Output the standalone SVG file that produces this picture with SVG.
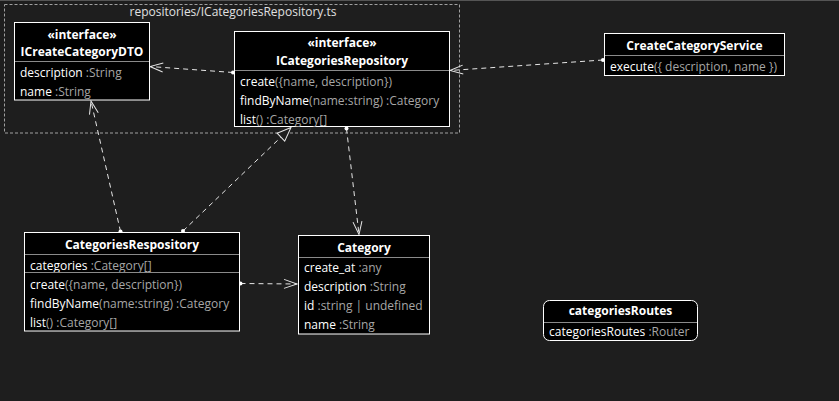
<svg xmlns="http://www.w3.org/2000/svg" width="839" height="401" viewBox="0 0 839 401">
<style>
text{font-family:"Open Sans","Noto Sans","Liberation Sans",sans-serif;font-size:12px;fill:#ffffff}
.t{font-weight:bold;text-anchor:middle}
.g{fill:#a6a6a6}
.box{fill:#000;stroke:#fff;stroke-width:1}
.div{stroke:#8a8a8a;stroke-width:1}
.edge{fill:none;stroke:#e6e6e6;stroke-width:1;stroke-dasharray:5,4}
.dot{fill:#fff}
</style>
<defs>
<marker id="open" viewBox="-14 -6 16 12" refX="0" refY="0" markerWidth="16" markerHeight="12" markerUnits="userSpaceOnUse" orient="auto">
<path d="M-13,-4.5 L0,0 L-13,4.5" fill="none" stroke="#e6e6e6" stroke-width="1"/>
</marker>
<marker id="tri" viewBox="-16 -8 18 16" refX="0" refY="0" markerWidth="18" markerHeight="16" markerUnits="userSpaceOnUse" orient="auto">
<path d="M-14,-5.5 L0,0 L-14,5.5 Z" fill="#1e1e1e" stroke="#e6e6e6" stroke-width="1"/>
</marker>
</defs>
<rect x="0" y="0" width="839" height="401" fill="#1e1e1e"/>
<line x1="0" y1="0.5" x2="839" y2="0.5" stroke="#555"/>

<g id="package">
<rect x="4.5" y="4.5" width="455" height="128.5" fill="none" stroke="#a0a0a0" stroke-dasharray="3,2"/>
<text x="233" y="16" text-anchor="middle" style="fill:#e0e0e0">repositories/ICategoriesRepository.ts</text>
</g>

<g id="connectors">
<path class="edge" d="M233,72.5 L150,66.5" marker-end="url(#open)"/>
<circle class="dot" cx="233" cy="72.5" r="2"/>
<path class="edge" d="M603,60 L450,70.5" marker-end="url(#open)"/>
<circle class="dot" cx="603" cy="60" r="2"/>
<path class="edge" d="M120.5,231.5 L91,101" marker-end="url(#open)"/>
<circle class="dot" cx="120.5" cy="231.5" r="2"/>
<path class="edge" d="M183,231 L291,127.5" marker-end="url(#tri)"/>
<circle class="dot" cx="183" cy="231" r="2"/>
<path class="edge" d="M346.5,128.5 L359,234.5" marker-end="url(#open)"/>
<circle class="dot" cx="346.5" cy="128.5" r="2"/>
<path class="edge" d="M240.5,283.5 L297,284" marker-end="url(#open)"/>
<circle class="dot" cx="240.5" cy="283.5" r="2"/>
</g>

<g id="ICreateCategoryDTO">
<rect class="box" x="14.5" y="22.5" width="135" height="77.5"/>
<text class="t" x="82" y="39">«interface»</text>
<text class="t" x="82" y="56">ICreateCategoryDTO</text>
<line class="div" x1="15" y1="61.5" x2="149" y2="61.5"/>
<text x="20" y="77">description <tspan class="g">:String</tspan></text>
<text x="20" y="96">name <tspan class="g">:String</tspan></text>
</g>

<g id="ICategoriesRepository">
<rect class="box" x="234.5" y="31.5" width="215" height="95"/>
<text class="t" x="342" y="47">«interface»</text>
<text class="t" x="342" y="65">ICategoriesRepository</text>
<line class="div" x1="235" y1="70.5" x2="449" y2="70.5"/>
<text x="240" y="86">create<tspan class="g">({name, description})</tspan></text>
<text x="240" y="105">findByName<tspan class="g">(name:string) :Category</tspan></text>
<text x="240" y="124">list<tspan class="g">() :Category[]</tspan></text>
</g>

<g id="CreateCategoryService">
<rect class="box" x="604.5" y="33.5" width="180" height="42"/>
<text class="t" x="694.5" y="50">CreateCategoryService</text>
<line class="div" x1="605" y1="55.5" x2="784" y2="55.5"/>
<text x="610" y="71">execute<tspan class="g">({ description, name })</tspan></text>
</g>

<g id="CategoriesRespository">
<rect class="box" x="24.5" y="232.5" width="215" height="98.5"/>
<text class="t" x="132" y="248.5">CategoriesRespository</text>
<line class="div" x1="25" y1="254.5" x2="239" y2="254.5"/>
<text x="30" y="270">categories <tspan class="g">:Category[]</tspan></text>
<line class="div" x1="25" y1="272.5" x2="239" y2="272.5"/>
<text x="30" y="289">create<tspan class="g">({name, description})</tspan></text>
<text x="30" y="308">findByName<tspan class="g">(name:string) :Category</tspan></text>
<text x="30" y="327">list<tspan class="g">() :Category[]</tspan></text>
</g>

<g id="Category">
<rect class="box" x="298.5" y="235.5" width="131" height="98.5"/>
<text class="t" x="364" y="252">Category</text>
<line class="div" x1="299" y1="257.5" x2="429" y2="257.5"/>
<text x="304" y="272">create_at <tspan class="g">:any</tspan></text>
<text x="304" y="291">description <tspan class="g">:String</tspan></text>
<text x="304" y="310">id <tspan class="g">:string | undefined</tspan></text>
<text x="304" y="329">name <tspan class="g">:String</tspan></text>
</g>

<g id="categoriesRoutes">
<rect class="box" x="543.5" y="300.5" width="154" height="40" rx="6" ry="6"/>
<text class="t" x="620.5" y="315">categoriesRoutes</text>
<line class="div" x1="544" y1="322.5" x2="697" y2="322.5"/>
<text x="549" y="336">categoriesRoutes <tspan class="g">:Router</tspan></text>
</g>
</svg>
